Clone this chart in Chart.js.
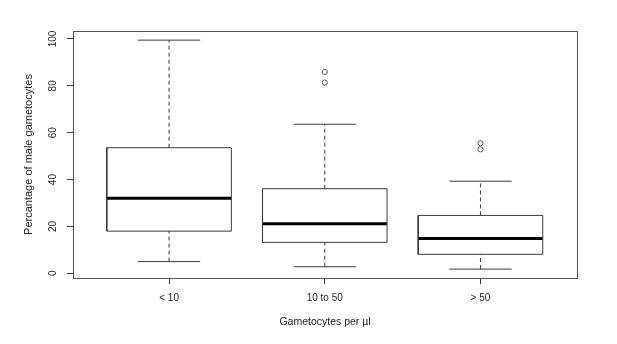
<!DOCTYPE html>
<html>
<head>
<meta charset="utf-8">
<script src="https://cdn.jsdelivr.net/npm/chart.js@4/dist/chart.umd.min.js"></script>
<style>
html,body{margin:0;padding:0;background:#fff;}
#wrap{width:617px;height:344px;}
</style>
</head>
<body>
<div id="wrap"><canvas id="c" width="617" height="344"></canvas></div>
<script>
// ---- data ----
const categories   = ['< 10', '10 to 50', '> 50'];
const whiskerLow   = [5.0, 2.8, 1.8];
const quartile1    = [18.0, 13.2, 8.1];
const medians      = [32.0, 21.2, 14.9];
const quartile3    = [53.6, 36.1, 24.7];
const whiskerHigh  = [99.5, 63.6, 39.3];
const outliers     = [[], [85.9, 81.4], [55.5, 52.9]];
const yTickValues  = [0, 20, 40, 60, 80, 100];
const xTitle = 'Gametocytes per \u00b5l';
const yTitle = 'Percantage of male gametocytes';

const LINE = '#3a3a3a';
const TEXT = '#222';
const FONT = 'Liberation Sans, Arial, sans-serif';

const datasets = [];
categories.forEach((cat, k) => {
  const i = k + 1;
  const seg = (pts, extra) => datasets.push(Object.assign({
    type: 'scatter', data: pts, showLine: true, pointRadius: 0,
    borderColor: LINE, borderWidth: 1, fill: false
  }, extra || {}));
  // whiskers (dashed)
  seg([{x: i, y: quartile3[k]}, {x: i, y: whiskerHigh[k]}], {borderDash: [4, 3]});
  seg([{x: i, y: whiskerLow[k]}, {x: i, y: quartile1[k]}], {borderDash: [4, 3]});
  // caps
  seg([{x: i - 0.2, y: whiskerHigh[k]}, {x: i + 0.2, y: whiskerHigh[k]}]);
  seg([{x: i - 0.2, y: whiskerLow[k]}, {x: i + 0.2, y: whiskerLow[k]}]);
  // box
  seg([{x: i - 0.4, y: quartile1[k]}, {x: i + 0.4, y: quartile1[k]},
       {x: i + 0.4, y: quartile3[k]}, {x: i - 0.4, y: quartile3[k]},
       {x: i - 0.4, y: quartile1[k]}], {backgroundColor: '#fff', fill: true});
  // median
  seg([{x: i - 0.4, y: medians[k]}, {x: i + 0.4, y: medians[k]}], {borderColor: '#000', borderWidth: 3});
  // outliers
  if (outliers[k].length) {
    datasets.push({
      type: 'scatter', data: outliers[k].map(v => ({x: i, y: v})),
      pointStyle: 'circle', pointRadius: 2.6, pointBorderWidth: 1,
      pointBorderColor: '#555', pointBackgroundColor: 'rgba(255,255,255,0)', showLine: false
    });
  }
});

const framePlugin = {
  id: 'frame',
  afterDatasetsDraw(chart) {
    const {ctx, chartArea: a} = chart;
    ctx.save();
    ctx.strokeStyle = '#555';
    ctx.lineWidth = 1;
    ctx.strokeRect(Math.round(a.left) + 0.5, Math.round(a.top) + 0.5,
                   Math.round(a.right - a.left), Math.round(a.bottom - a.top));
    // rotated y tick labels (R style)
    const ys = chart.scales.y;
    ctx.fillStyle = TEXT;
    ctx.font = '10px ' + FONT;
    ctx.textAlign = 'center';
    ctx.textBaseline = 'middle';
    ys.ticks.forEach(t => {
      const py = ys.getPixelForValue(t.value);
      ctx.save();
      ctx.translate(53, py);
      ctx.rotate(-Math.PI / 2);
      ctx.fillText(String(t.value), 0, 0);
      ctx.restore();
    });
    ctx.restore();
  }
};

new Chart(document.getElementById('c'), {
  type: 'scatter',
  data: {datasets},
  plugins: [framePlugin],
  options: {
    responsive: false,
    animation: false,
    devicePixelRatio: 1,
    layout: {padding: {top: 31, right: 40, left: 0, bottom: 0}},
    plugins: {legend: {display: false}, tooltip: {enabled: false}},
    scales: {
      x: {
        type: 'linear', min: 0.383, max: 3.62,
        afterBuildTicks: s => { s.ticks = categories.map((c, k) => ({value: k + 1})); },
        afterFit: s => { s.height = 66; },
        ticks: {
          callback: v => categories[v - 1] ?? '',
          color: TEXT, font: {family: FONT, size: 10}, padding: 8, maxRotation: 0, autoSkip: false
        },
        grid: {drawOnChartArea: false, drawTicks: true, tickLength: 6, color: LINE, tickWidth: 1},
        border: {display: false},
        title: {display: true, text: xTitle, color: TEXT, font: {family: FONT, size: 10.5}, padding: {top: 0, bottom: 16}}
      },
      y: {
        type: 'linear', min: -2.0, max: 103.4,
        afterBuildTicks: s => { s.ticks = yTickValues.map(v => ({value: v})); },
        afterFit: s => { s.width = 73; },
        ticks: {display: false},
        grid: {drawOnChartArea: false, drawTicks: true, tickLength: 6, color: LINE, tickWidth: 1},
        border: {display: false},
        title: {display: true, text: yTitle, color: TEXT, font: {family: FONT, size: 11}, padding: {top: 22, bottom: 0}}
      }
    }
  }
});
</script>
</body>
</html>
